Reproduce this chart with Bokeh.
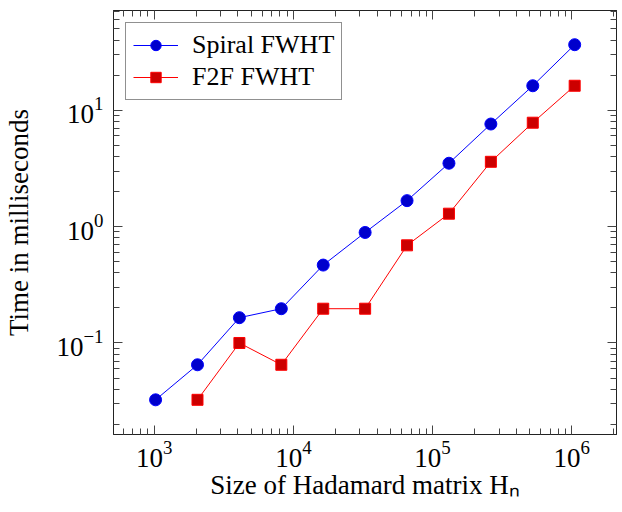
from bokeh.plotting import figure
from bokeh.models import FixedTicker, LogAxis, CustomJSTickFormatter, Range1d
from bokeh.embed import file_html
from bokeh.resources import INLINE

# data
sizes = [1024, 2048, 4096, 8192, 16384, 32768, 65536, 131072, 262144, 524288, 1048576]
spiral_ms = [0.0325, 0.065, 0.165, 0.197, 0.467, 0.89, 1.67, 3.5, 7.6, 16.2, 36.5]
f2f_sizes = [2048, 4096, 8192, 16384, 32768, 65536, 131072, 262144, 524288, 1048576]
f2f_ms = [0.0325, 0.1, 0.065, 0.197, 0.197, 0.69, 1.29, 3.6, 7.8, 16.2]

x_major = [1e3, 1e4, 1e5, 1e6]
y_major = [0.1, 1.0, 10.0]

FONT = "Liberation Serif"

x_minor = [m * 10.0 ** k for k in range(2, 7) for m in range(2, 10)]
y_minor = [m * 10.0 ** k for k in range(-2, 2) for m in range(2, 10)]

p = figure(width=618, height=502, x_axis_type="log", y_axis_type="log",
           x_range=Range1d(10 ** 2.708, 10 ** 6.321),
           y_range=Range1d(10 ** -1.786, 10 ** 1.856),
           output_backend="svg", toolbar_location=None,
           min_border_left=113, min_border_right=2, min_border_top=10, min_border_bottom=60)

p.grid.visible = False
p.outline_line_color = "#222222"
p.outline_line_width = 1
p.background_fill_color = "white"
p.border_fill_color = "white"

xt = FixedTicker(ticks=x_major, minor_ticks=x_minor)
yt = FixedTicker(ticks=y_major, minor_ticks=y_minor)
p.xaxis.ticker = xt
p.yaxis.ticker = yt

def style_axis(ax):
    ax.major_tick_in = 9
    ax.major_tick_out = 0
    ax.minor_tick_in = 6
    ax.minor_tick_out = 0
    ax.major_tick_line_color = "#444444"
    ax.minor_tick_line_color = "#444444"
    ax.axis_line_color = "#222222"
    ax.major_label_text_font = FONT
    ax.major_label_text_font_size = "27px"
    ax.major_label_text_color = "black"
    ax.axis_label_text_font = FONT
    ax.axis_label_text_font_size = "27px"
    ax.axis_label_text_font_style = "normal"
    ax.axis_label_text_color = "black"

for ax in p.xaxis + p.yaxis:
    style_axis(ax)

p.xaxis.axis_label = "Size of Hadamard matrix Hₙ"
p.yaxis.axis_label = "Time in milliseconds"
p.xaxis.major_label_standoff = 6
p.yaxis.major_label_standoff = 10
p.xaxis.axis_label_standoff = 0
p.yaxis.axis_label_standoff = 19

empty = CustomJSTickFormatter(code="return ''")
top = LogAxis(ticker=xt, formatter=empty, major_label_standoff=0)
right = LogAxis(ticker=yt, formatter=empty, major_label_standoff=0)
for ax in (top, right):
    style_axis(ax)
    ax.major_label_text_font_size = "1px"
p.add_layout(top, "above")
p.add_layout(right, "right")

p.line(sizes, spiral_ms, line_color="#0000ff", line_width=1, legend_label="Spiral FWHT")
p.scatter(sizes, spiral_ms, marker="circle", size=12, fill_color="#0000cc",
          line_color="#0000ff", line_width=1, legend_label="Spiral FWHT")
p.line(f2f_sizes, f2f_ms, line_color="#ff0000", line_width=1, legend_label="F2F FWHT")
p.scatter(f2f_sizes, f2f_ms, marker="square", size=11, fill_color="#cc0000",
          line_color="#ff0000", line_width=1, legend_label="F2F FWHT")

lg = p.legend[0]
lg.location = "top_left"
lg.margin = 12
lg.border_line_color = "#222222"
lg.border_line_width = 1
lg.label_text_font = FONT
lg.label_text_font_size = "26px"
lg.label_text_color = "black"
lg.glyph_width = 45
lg.glyph_height = 26
lg.label_height = 26
lg.spacing = 2
lg.padding = 7
lg.label_standoff = 14
lg.background_fill_alpha = 1

open("out.html", "w").write(file_html(p, INLINE))
